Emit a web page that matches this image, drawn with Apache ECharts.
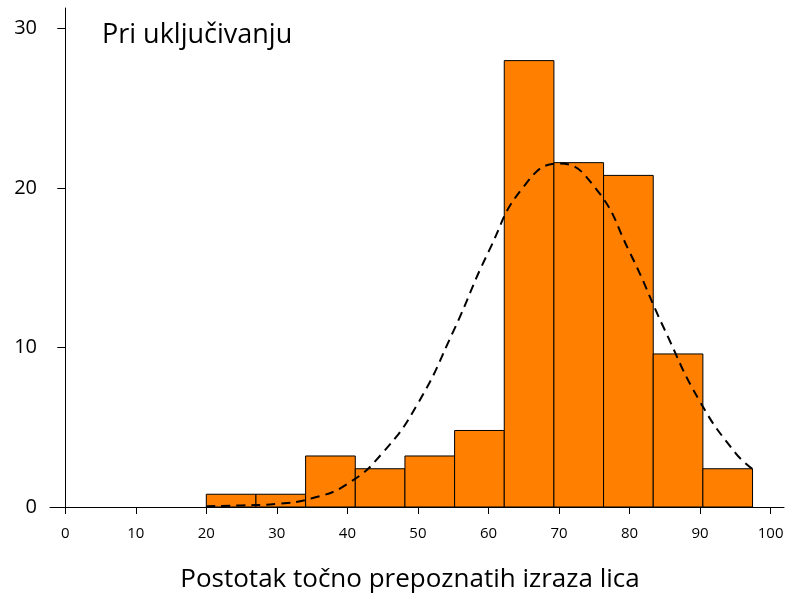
<!DOCTYPE html>
<html>
<head>
<meta charset="utf-8">
<script src="https://cdn.jsdelivr.net/npm/echarts@6/dist/echarts.min.js"></script>
<style>
  html, body { margin: 0; padding: 0; background: #fff; }
  #chart { width: 787px; height: 599px; }
</style>
</head>
<body>
<div id="chart"></div>
<script>
// Histogram bins: lower edge of the first bin and common width
const binStart = 20;
const binWidth = 7.04;
// Share of participants (%) in each bin
const binPercents = [0.8, 0.8, 3.2, 2.4, 3.2, 4.8, 28.0, 21.6, 20.8, 9.6, 2.4];

// Fitted normal curve, sampled along the score range
const curveX = [20, 25, 30, 35, 40, 45, 50, 55, 60, 65, 70, 75, 80, 85, 90, 95, 97.4];
const curveY = [0.05, 0.1, 0.2, 0.55, 1.45, 3.4, 6.5, 11.0, 16.0, 20.1, 21.55, 20.1, 16.0, 11.1, 6.6, 3.4, 2.4];

// Axis ticks
const xTicks = [0, 10, 20, 30, 40, 50, 60, 70, 80, 90, 100];
const yTicks = [0, 10, 20, 30];

const barData = binPercents.map((v, i) => [binStart + i * binWidth, binStart + (i + 1) * binWidth, v]);
const curveData = curveX.map((x, i) => [x, curveY[i]]);

const font = '"Open Sans", "Noto Sans", sans-serif';
const chart = echarts.init(document.getElementById('chart'), null, { renderer: 'canvas' });

chart.setOption({
  animation: false,
  backgroundColor: '#fff',
  title: [
    {
      text: 'Pri uključivanju',
      left: 97, top: 17,
      textStyle: { fontFamily: font, fontSize: 27, fontWeight: 'normal', color: '#000' }
    },
    {
      text: 'Postotak točno prepoznatih izraza lica',
      left: 405, top: 562, textAlign: 'center',
      textStyle: { fontFamily: font, fontSize: 26, fontWeight: 'normal', color: '#000' }
    }
  ],
  grid: { left: 50, right: 3, top: 8, bottom: 92, containLabel: false },
  xAxis: {
    type: 'value',
    min: -2.16, max: 101.9,
    splitLine: { show: false },
    axisLine: { show: true, onZero: false, lineStyle: { color: '#000', width: 1 } },
    axisTick: { show: true, length: 7, customValues: xTicks, lineStyle: { color: '#000' } },
    axisLabel: { customValues: xTicks, margin: 19, fontFamily: font, fontSize: 15, color: '#000' }
  },
  yAxis: {
    type: 'value',
    min: 0, max: 31.3,
    splitLine: { show: false },
    axisLine: { show: true, lineStyle: { color: '#000', width: 1 } },
    axisTick: { show: true, length: 8, customValues: yTicks, lineStyle: { color: '#000' } },
    axisLabel: { customValues: yTicks, margin: 13, fontFamily: font, fontSize: 20, color: '#000' }
  },
  series: [
    {
      type: 'custom',
      data: barData,
      encode: { x: [0, 1], y: 2 },
      renderItem: function (params, api) {
        const top = api.coord([api.value(0), api.value(2)]);
        const base = api.coord([api.value(1), 0]);
        return {
          type: 'rect',
          shape: { x: top[0], y: top[1], width: base[0] - top[0], height: base[1] - top[1] },
          style: { fill: '#FF8000', stroke: '#000', lineWidth: 1 }
        };
      },
      z: 2
    },
    {
      type: 'line',
      data: curveData,
      smooth: true,
      symbol: 'none',
      lineStyle: { color: '#000', width: 2, type: [9, 6] },
      z: 3
    }
  ]
});
</script>
</body>
</html>
